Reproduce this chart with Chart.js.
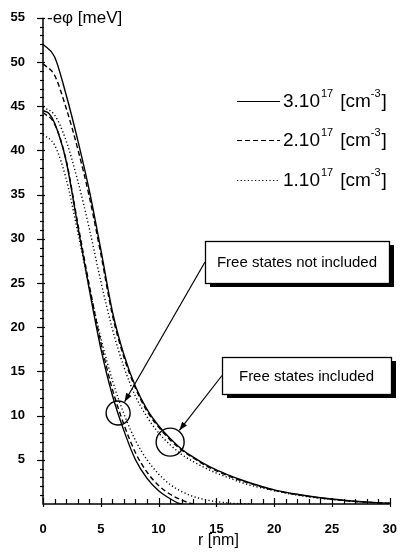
<!DOCTYPE html>
<html>
<head>
<meta charset="utf-8">
<script src="https://cdn.jsdelivr.net/npm/chart.js@4.4.1/dist/chart.umd.min.js"></script>
<style>
  html,body{margin:0;padding:0;background:#fff;}
  #wrap{width:407px;height:553px;position:relative;}
</style>
</head>
<body>
<div id="wrap"><canvas id="c" width="407" height="553"></canvas></div>
<script>
// ---- data ----
const rOuter = [0,1,2,3,4,5,6,7,8,9,10,11,12,13,14,15,16,17,18,19,20,22,24,26,28,30];
const outerSolid  = [52,50.6,46.3,41.2,35.5,28.8,21.8,16.9,13.3,10.7,8.85,7.4,6.2,5.3,4.5,3.85,3.3,2.8,2.35,1.95,1.6,1.1,0.7,0.42,0.22,0.08];
const outerDashed = [49.8,48.5,44.8,40.2,34.8,28.3,21.4,16.6,13.1,10.5,8.7,7.25,6.1,5.2,4.4,3.75,3.2,2.7,2.3,1.9,1.55,1.05,0.68,0.4,0.2,0.08];
const outerDotted = [44.9,44,41.1,36.6,31.2,25.2,19.8,15.5,12.2,9.85,8.05,6.7,5.6,4.8,4.1,3.5,3.0,2.5,2.1,1.8,1.5,1.0,0.65,0.4,0.2,0.08];

const rInnerSolid = [0,0.5,1,2,3,4,5,6,7,8,9,10,11,11.7,12];
const innerSolid  = [44.5,44.2,43.1,38.8,31.5,24.3,17.6,12.3,8.3,5.0,2.9,1.5,0.6,0.1,0];
const rInnerDashed = [0,1,2,3,4,5,6,7,8,9,10,11,12,12.7,13];
const innerDashed  = [44.3,43,38.9,31.8,24.8,18.3,13,9,5.8,3.6,2.1,1.1,0.45,0.1,0];
const rInnerDotted = [0,1,2,3,4,5,6,7,8,9,10,11,12,13,14,15,16,17,18];
const innerDotted  = [41.8,40.6,36.8,30.8,24.5,18.8,14,10.2,7.2,5.0,3.4,2.2,1.4,0.85,0.5,0.27,0.12,0.04,0];

const xTickLabels = ['0','5','10','15','20','25','30'];
const yTickLabels = ['5','10','15','20','25','30','35','40','45','50','55'];
const legendBases = ['3.10','2.10','1.10'];
const legendExp = '17';
const annotations = ['Free states not included','Free states included'];
// circle centres in data units (r, -eφ)
const circleR = [6.5, 11];
const circleV = [10.3, 7];

function pts(xs, ys){ return xs.map((x,i)=>({x:x, y:ys[i]})); }

const solid = [], dashed = [5,3], dotted = [1.2,2.4];
function ds(xs, ys, dash){
  return {data: pts(xs, ys), borderColor:'#000', borderWidth:1.4, borderDash:dash,
          pointRadius:0, fill:false, cubicInterpolationMode:'monotone', tension:0.4};
}

const FONT = '"Liberation Sans", Arial, sans-serif';

const overlay = {
  id:'overlay',
  afterDraw(chart){
    const ctx = chart.ctx, xs = chart.scales.x, ys = chart.scales.y;
    const L = xs.left, R = xs.right, T = ys.top, B = ys.bottom;
    ctx.save();
    ctx.strokeStyle = '#000'; ctx.fillStyle = '#000'; ctx.setLineDash([]);
    // axes
    ctx.lineWidth = 1.5;
    ctx.beginPath(); ctx.moveTo(L, T); ctx.lineTo(L, B); ctx.lineTo(R, B); ctx.stroke();
    // y ticks
    ctx.lineWidth = 1.2;
    for (let v = 1; v <= 55; v++) {
      const y = Math.round(ys.getPixelForValue(v)) + 0.5;
      const major = v % 5 === 0;
      ctx.beginPath(); ctx.moveTo(L - (major ? 6 : 3), y); ctx.lineTo(L + (major ? 2 : 1), y); ctx.stroke();
    }
    // x ticks
    for (let r = 0; r <= 30; r++) {
      const x = Math.round(xs.getPixelForValue(r)) + 0.5;
      const major = r % 5 === 0;
      ctx.beginPath(); ctx.moveTo(x, B + (major ? 3 : 0)); ctx.lineTo(x, B - (major ? 6 : 5)); ctx.stroke();
    }
    // y title
    ctx.font = '17px ' + FONT; ctx.textBaseline = 'middle'; ctx.textAlign = 'left';
    ctx.fillText('-eφ [meV]', L + 4, T + 1);
    // x title
    ctx.textAlign = 'center';
    ctx.font = '16px ' + FONT;
    ctx.fillText('r [nm]', (L + R) / 2 + 2, 541);

    // legend
    const legY = [101, 140, 180];
    const dashes = [solid, dashed, dotted];
    for (let i = 0; i < 3; i++) {
      const y = legY[i];
      ctx.lineWidth = 1.2; ctx.setLineDash(dashes[i]);
      ctx.beginPath(); ctx.moveTo(237, y + 0.5); ctx.lineTo(280, y + 0.5); ctx.stroke();
      ctx.setLineDash([]);
      let x = 283;
      ctx.textAlign = 'left'; ctx.textBaseline = 'middle';
      ctx.font = '19px ' + FONT; ctx.fillText(legendBases[i], x, y + 1); x += ctx.measureText(legendBases[i]).width;
      ctx.font = '11px ' + FONT; ctx.fillText(legendExp, x + 1, y - 7); x += ctx.measureText(legendExp).width + 8;
      ctx.font = '19px ' + FONT; ctx.fillText('[cm', x, y + 1); x += ctx.measureText('[cm').width;
      ctx.font = '11px ' + FONT; ctx.fillText('-3', x, y - 7); x += ctx.measureText('-3').width + 1;
      ctx.font = '19px ' + FONT; ctx.fillText(']', x, y + 1);
    }

    // annotation boxes
    const boxes = [
      {x:205, y:241, w:184, h:42},
      {x:222, y:357, w:169, h:37}
    ];
    ctx.font = '15px ' + FONT;
    boxes.forEach((b, i) => {
      // shadow
      ctx.fillStyle = '#000';
      ctx.fillRect(b.x + b.w, b.y + 4, 5, b.h);
      ctx.fillRect(b.x + 5, b.y + b.h, b.w, 4);
      ctx.fillStyle = '#fff'; ctx.fillRect(b.x, b.y, b.w, b.h);
      ctx.lineWidth = 1.3; ctx.strokeStyle = '#000';
      ctx.strokeRect(b.x + 0.5, b.y + 0.5, b.w, b.h);
      ctx.fillStyle = '#000'; ctx.textAlign = 'center'; ctx.textBaseline = 'middle';
      ctx.fillText(annotations[i], b.x + b.w / 2, b.y + b.h / 2 + 1);
      // circle
      const cx = xs.getPixelForValue(circleR[i]), cy = ys.getPixelForValue(circleV[i]);
      const rad = i === 0 ? 12 : 14;
      ctx.lineWidth = 1.4;
      ctx.beginPath(); ctx.arc(cx, cy, rad, 0, Math.PI * 2); ctx.stroke();
      // arrow from box left to circle edge
      const sx = b.x, sy = b.y + b.h / 2;
      const ang = Math.atan2(cy - sy, cx - sx);
      const ex = cx - Math.cos(ang) * (rad + 1), ey = cy - Math.sin(ang) * (rad + 1);
      ctx.lineWidth = 1.2;
      ctx.beginPath(); ctx.moveTo(sx, sy); ctx.lineTo(ex, ey); ctx.stroke();
      const ah = 9, aw = 0.35;
      ctx.beginPath();
      ctx.moveTo(ex, ey);
      ctx.lineTo(ex - ah * Math.cos(ang - aw), ey - ah * Math.sin(ang - aw));
      ctx.lineTo(ex - ah * Math.cos(ang + aw), ey - ah * Math.sin(ang + aw));
      ctx.closePath(); ctx.fill();
    });
    ctx.restore();
  }
};

new Chart(document.getElementById('c'), {
  type: 'line',
  data: {
    datasets: [
      ds(rOuter, outerSolid, solid),
      ds(rOuter, outerDashed, dashed),
      ds(rOuter, outerDotted, dotted),
      ds(rInnerSolid, innerSolid, solid),
      ds(rInnerDashed, innerDashed, dashed),
      ds(rInnerDotted, innerDotted, dotted)
    ]
  },
  options: {
    responsive: false, animation: false,
    layout: {padding: {top: 14, right: 9, left: 0, bottom: 0}},
    plugins: {legend: {display: false}, tooltip: {enabled: false}},
    scales: {
      x: {
        type: 'linear', min: 0, max: 30,
        afterFit(s){ s.height = 49; },
        grid: {display: false}, border: {display: false},
        ticks: {stepSize: 5, padding: 10, color: '#000', maxRotation: 0,
                font: {family: FONT, size: 13, weight: 'bold'},
                callback: (v) => xTickLabels.includes(String(v)) ? String(v) : ''}
      },
      y: {
        type: 'linear', min: 0, max: 55,
        afterFit(s){ s.width = 43; },
        grid: {display: false}, border: {display: false},
        ticks: {stepSize: 5, padding: 10, color: '#000',
                font: {family: FONT, size: 13, weight: 'bold'},
                callback: (v) => yTickLabels.includes(String(v)) ? String(v) : ''}
      }
    }
  },
  plugins: [overlay]
});
</script>
</body>
</html>
